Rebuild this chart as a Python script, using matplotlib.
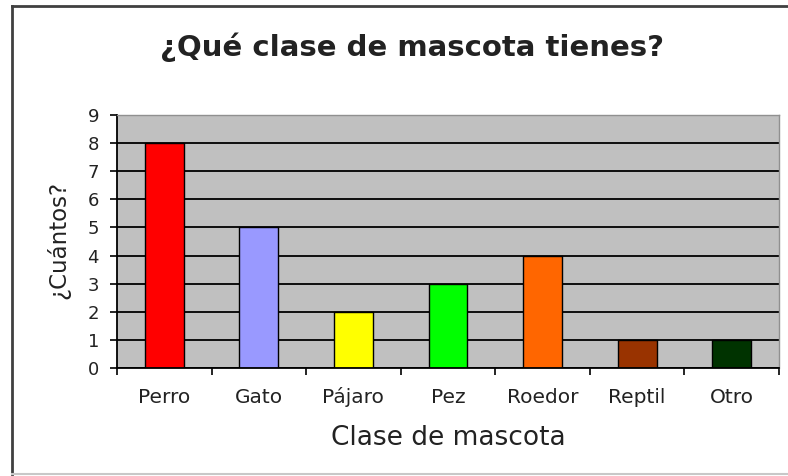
import matplotlib
matplotlib.use("Agg")
import matplotlib.pyplot as plt
from matplotlib.lines import Line2D

# datos del grafico
categorias = ["Perro", "Gato", "Pájaro", "Pez", "Roedor", "Reptil", "Otro"]
cuantos = [8, 5, 2, 3, 4, 1, 1]
colores = ["#FF0000", "#9999FF", "#FFFF00", "#00FF00", "#FF6600", "#993300", "#003300"]
yticks = list(range(0, 10))

plt.rcParams["font.family"] = ["DejaVu Sans"]

fig = plt.figure(figsize=(7.88, 4.76), dpi=100)
ax = fig.add_axes([117 / 788, 1 - 368 / 476, (779 - 117) / 788, (368 - 115) / 476])

ax.set_facecolor("#C0C0C0")
ax.set_axisbelow(True)
ax.yaxis.grid(True, color="black", linewidth=1.3)

x = range(len(categorias))
ax.bar(x, cuantos, width=0.41, color=colores, edgecolor="black", linewidth=1.0)

ax.set_xlim(-0.5, len(categorias) - 0.5)
ax.set_ylim(0, 9)
ax.set_yticks(yticks)
ax.set_xticks(list(x))
ax.set_xticklabels(categorias, fontsize=14.5, color="#222222", va="baseline")
ax.set_xticks([i - 0.5 for i in range(len(categorias) + 1)], minor=True)
ax.tick_params(axis="x", which="major", length=0, pad=25)
ax.tick_params(axis="x", which="minor", length=5, width=1.2, direction="out")
ax.tick_params(axis="y", length=5, width=1.2, direction="out", pad=8,
               labelsize=13, labelcolor="#222222")

for s in ["left", "bottom"]:
    ax.spines[s].set_color("black")
    ax.spines[s].set_linewidth(1.3)
for s in ["top", "right"]:
    ax.spines[s].set_color("#909090")
    ax.spines[s].set_linewidth(1.0)

ax.set_ylabel("¿Cuántos?", fontsize=16.5, color="#222222", va="center", ha="center")
ax.yaxis.set_label_coords(-0.089, 0.506)
ax.set_xlabel("Clase de mascota", fontsize=19, color="#222222", va="center", ha="center")
ax.xaxis.set_label_coords(0.5, -0.277)

fig.text(412 / 788, 1 - 47 / 476, "¿Qué clase de mascota tienes?", fontsize=21,
         fontweight="bold", color="#222222", ha="center", va="center")

# marco exterior
fig.add_artist(Line2D([12 / 788, 12 / 788], [1 - 6 / 476, 1 - 474 / 476],
                      transform=fig.transFigure, color="#404040", linewidth=2))
fig.add_artist(Line2D([12 / 788, 1], [1 - 6 / 476, 1 - 6 / 476],
                      transform=fig.transFigure, color="#404040", linewidth=2))
fig.add_artist(Line2D([12 / 788, 1], [1 - 474 / 476, 1 - 474 / 476],
                      transform=fig.transFigure, color="#C8C8C8", linewidth=1.5))

fig.savefig("out.png", dpi=100)
